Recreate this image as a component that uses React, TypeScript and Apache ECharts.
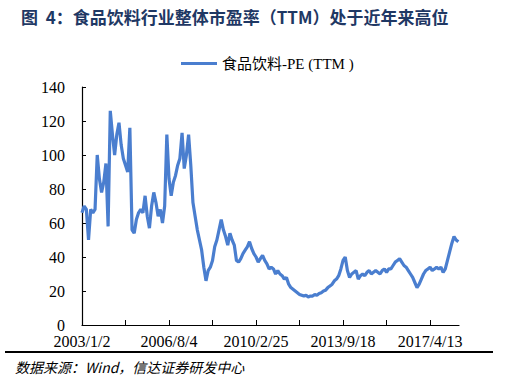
import React, { useEffect, useRef } from "react";
import * as echarts from "echarts";

const titleText = "图  4：食品饮料行业整体市盈率（TTM）处于近年来高位";
const sourceText = "数据来源：Wind，信达证券研发中心";
const seriesName = "食品饮料-PE (TTM )";
const xTickLabels = ["2003/1/2", "2006/8/4", "2010/2/25", "2013/9/18", "2017/4/13"];
const yTicks = { min: 0, max: 140, interval: 20 };

const peValues = [
  66, 70, 68, 50, 68, 66, 68, 100, 86, 78,
  84, 95, 58, 126, 112, 100, 112, 119, 106, 98,
  94, 90, 116, 56, 54, 62, 66, 68, 66, 76,
  64, 57, 70, 78, 72, 64, 68, 60, 70, 112,
  86, 76, 84, 88, 94, 98, 113, 92, 100, 112,
  94, 72, 64, 56, 50, 44, 34, 26, 32, 34,
  38, 46, 50, 56, 62, 56, 52, 47, 54, 50,
  47, 38, 37, 39, 42, 44, 46, 49, 45, 42,
  40, 37, 39, 41, 38, 36, 33, 34, 33, 30,
  32, 30, 29, 27, 28, 24, 22, 21, 20, 19,
  18, 17.5, 17, 17.5, 16.5, 17, 17, 18, 17.5, 18.5,
  19, 20, 20.5, 22, 23, 24, 26, 27, 29, 33,
  38, 40, 32, 28, 30, 31, 32, 27, 29, 30,
  29, 31, 32, 30, 31, 32, 31, 30, 32, 33,
  31, 33, 33, 35, 37, 38, 39, 37, 35, 34,
  32, 30, 28, 25, 22, 24, 27, 30, 32, 33,
  34, 32, 33, 34, 33, 34, 31, 33, 38, 43,
  48, 52, 50, 49,
];

export default function App() {
  const ref = useRef<HTMLDivElement>(null);
  useEffect(() => {
    if (!ref.current) return;
    const chart = echarts.init(ref.current, undefined, { renderer: "svg" });
    const serif = "'Liberation Serif', 'Noto Sans CJK SC', serif";
    chart.setOption({
      animation: false,
      backgroundColor: "#ffffff",
      title: {
        text: titleText,
        left: 16,
        top: 3,
        textStyle: {
          fontSize: 17,
          fontWeight: "bold",
          color: "#1F3864",
          fontFamily: "'Noto Sans CJK SC', 'Liberation Sans', sans-serif",
        },
      },
      legend: {
        top: 51,
        left: 176,
        itemWidth: 36,
        itemHeight: 3,
        itemGap: 10,
        textStyle: { fontSize: 15, color: "#000", fontFamily: serif },
        data: [{ name: seriesName, icon: "rect" }],
      },
      grid: { left: 82, right: 47, top: 87, bottom: 52, containLabel: false },
      xAxis: {
        type: "value",
        min: 0,
        max: 173.3,
        interval: 20,
        axisLine: { show: true, lineStyle: { color: "#000", width: 1.2 } },
        axisTick: { show: true, inside: true, length: 5, lineStyle: { color: "#000" } },
        splitLine: { show: false },
        axisLabel: {
          fontSize: 16,
          color: "#000",
          fontFamily: serif,
          margin: 8,
          showMaxLabel: false,
          formatter: (v: number) => {
            const r = Math.round(v);
            if (Math.abs(v - r) > 1e-6 || r % 40 !== 0) return "";
            return xTickLabels[r / 40] ?? "";
          },
        },
      },
      yAxis: {
        type: "value",
        min: yTicks.min,
        max: yTicks.max,
        interval: yTicks.interval,
        axisLine: { show: true, lineStyle: { color: "#000", width: 1.2 } },
        axisTick: { show: true, inside: true, length: 4, lineStyle: { color: "#000" } },
        splitLine: { show: false },
        axisLabel: { fontSize: 16, color: "#000", fontFamily: serif, margin: 17 },
      },
      series: [
        {
          name: seriesName,
          type: "line",
          symbol: "none",
          data: peValues.map((v, i) => [i, v]),
          lineStyle: { color: "#4A7ECF", width: 3.2 },
          itemStyle: { color: "#4A7ECF" },
        },
      ],
      graphic: [
        {
          type: "rect",
          shape: { x: 5, y: 351, width: 488, height: 2 },
          style: { fill: "#000" },
        },
        {
          type: "text",
          left: 15,
          top: 360,
          style: {
            text: sourceText,
            fontSize: 14,
            fontStyle: "italic",
            fill: "#000",
            fontFamily: "'Noto Sans CJK SC', 'Liberation Sans', sans-serif",
          },
        },
      ],
    });
    return () => chart.dispose();
  }, []);
  return <div ref={ref} style={{ width: 506, height: 377, position: "absolute", left: 0, top: 0 }} />;
}
